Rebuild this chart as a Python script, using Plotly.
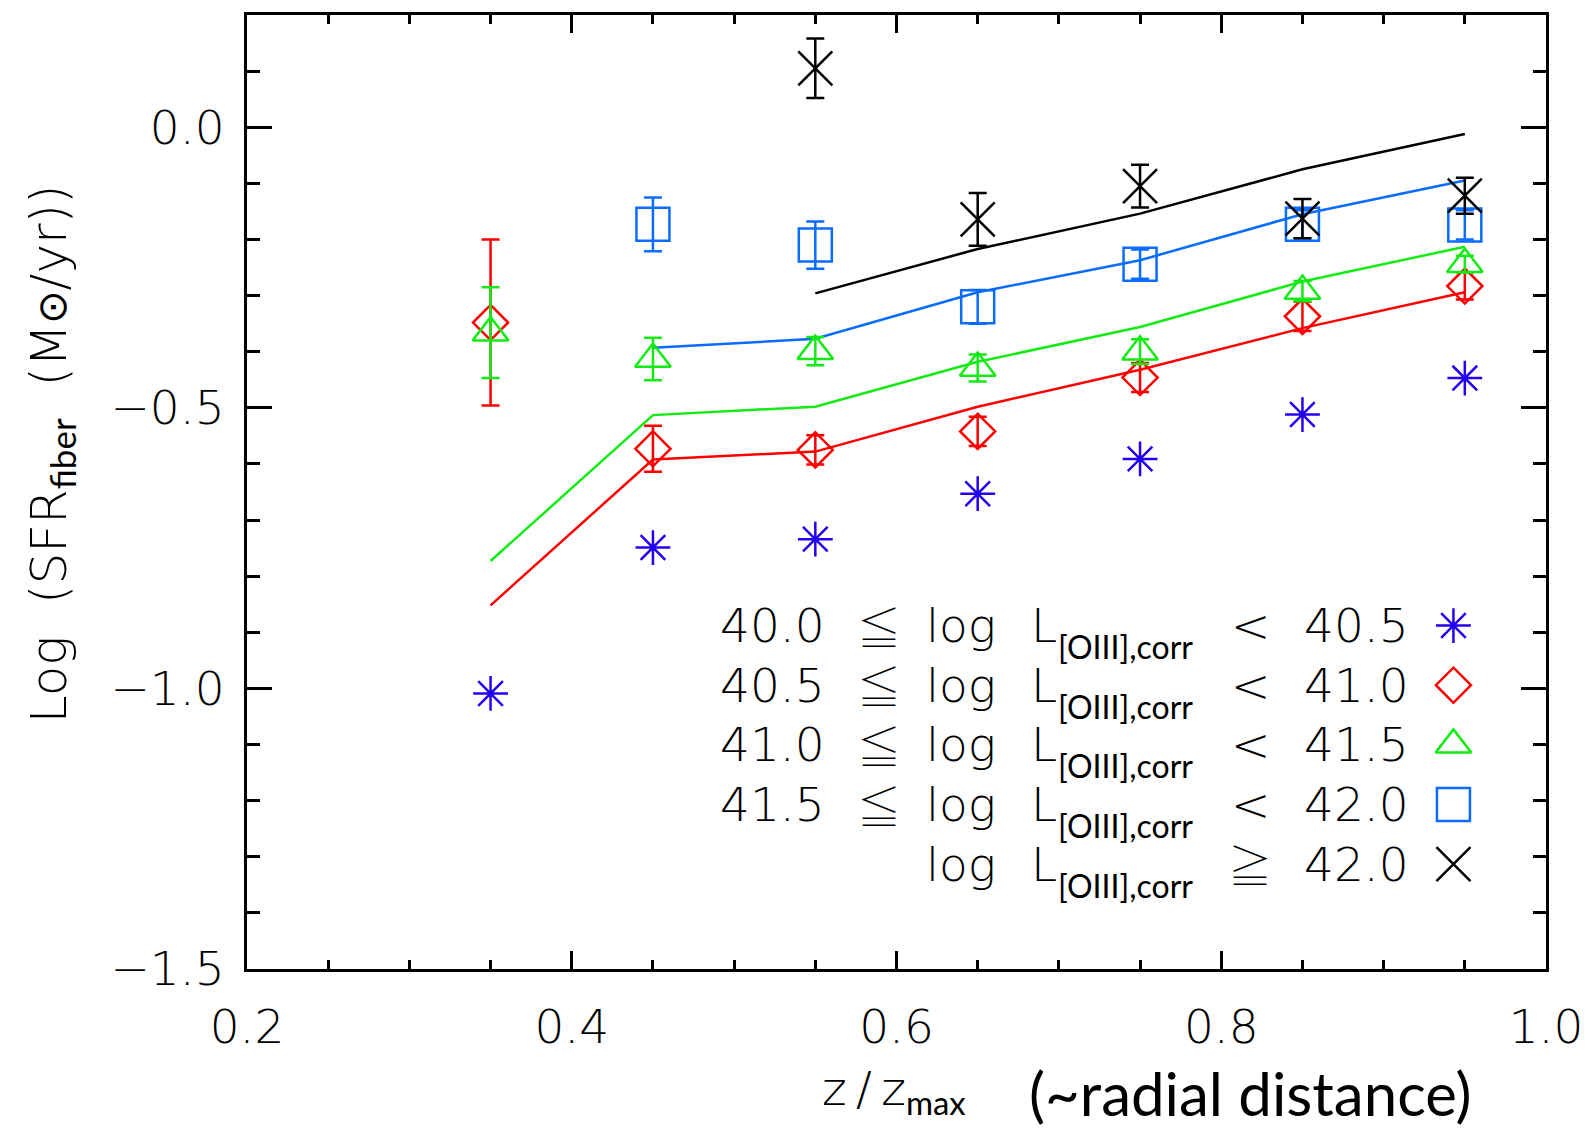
import plotly.graph_objects as go

# z/z_max bin centres
x_bins = [0.35, 0.45, 0.55, 0.65, 0.75, 0.85, 0.95]

# 40.0 <= log L < 40.5  (asterisks)
sfr_400 = [-1.009, -0.749, -0.734, -0.653, -0.591, -0.512, -0.447]

# 40.5 <= log L < 41.0  (diamonds + model line)
sfr_405 = [-0.348, -0.573, -0.575, -0.542, -0.446, -0.337, -0.283]
err_405 = [0.148, 0.041, 0.026, 0.026, 0.026, 0.026, 0.024]
model_405 = [-0.852, -0.592, -0.578, -0.498, -0.432, -0.358, -0.294]

# 41.0 <= log L < 41.5  (triangles + model line)
sfr_410 = [-0.366, -0.413, -0.399, -0.429, -0.400, -0.292, -0.244]
err_410 = [0.081, 0.038, 0.025, 0.024, 0.022, 0.018, 0.015]
model_410 = [-0.773, -0.513, -0.498, -0.418, -0.356, -0.275, -0.213]

# 41.5 <= log L < 42.0  (squares + model line)
x_415 = [0.45, 0.55, 0.65, 0.75, 0.85, 0.95]
sfr_415 = [-0.173, -0.210, -0.320, -0.244, -0.173, -0.174]
err_415 = [0.048, 0.042, 0.030, 0.026, 0.025, 0.026]
model_415 = [-0.393, -0.377, -0.294, -0.237, -0.155, -0.095]

# log L >= 42.0  (crosses + model line)
x_420 = [0.55, 0.65, 0.75, 0.85, 0.95]
sfr_420 = [0.105, -0.164, -0.105, -0.163, -0.122]
err_420 = [0.053, 0.047, 0.038, 0.035, 0.032]
model_420 = [-0.296, -0.217, -0.154, -0.075, -0.012]

# legend rows: lower bound, upper bound
row_lo = ["40.0", "40.5", "41.0", "41.5", ""]
row_hi = ["40.5", "41.0", "41.5", "42.0", "42.0"]

x_ticks = [0.2, 0.4, 0.6, 0.8, 1.0]
y_ticks = [-1.5, -1.0, -0.5, 0.0]

BLUE_STAR = "#2400f0"
RED = "#ff0000"
GREEN = "#14eb14"
BLUE_SQ = "#0a6cff"
BLACK = "#000000"

MAIN_FONT = "DejaVu Sans"
SUB_FONT = "Lato"
W = 200  # light strokes for the main lettering
SUB_SPAN = "<span style='font-family:Lato;font-weight:400'>{}</span>"

SYM_STAR = ("asterisk-open", 29)
SYM_DIAM = ("diamond-open", 27)
SYM_TRI = ("triangle-up-open", 31)
SYM_SQ = ("square-open", 33)
SYM_X = ("x-thin-open", 34)

fig = go.Figure()

# model curves
for xs, ys, col in [(x_bins, model_405, RED), (x_bins, model_410, GREEN),
                    (x_415, model_415, BLUE_SQ), (x_420, model_420, BLACK)]:
    fig.add_trace(go.Scatter(x=xs, y=ys, mode="lines",
                             line=dict(color=col, width=2.5), hoverinfo="skip"))


def points(xs, ys, errs, col, sym):
    kw = {}
    if errs is not None:
        kw["error_y"] = dict(type="data", array=errs, visible=True,
                             color=col, thickness=2.5, width=9)
    fig.add_trace(go.Scatter(
        x=xs, y=ys, mode="markers",
        marker=dict(symbol=sym[0], size=sym[1], color=col,
                    line=dict(color=col, width=2.5)),
        **kw))


points(x_bins, sfr_400, None, BLUE_STAR, SYM_STAR)
points(x_bins, sfr_405, err_405, RED, SYM_DIAM)
points(x_bins, sfr_410, err_410, GREEN, SYM_TRI)
points(x_415, sfr_415, err_415, BLUE_SQ, SYM_SQ)
points(x_420, sfr_420, err_420, BLACK, SYM_X)

# in-plot key
key_y0, key_dy = -0.888, 0.1063
key_x = 0.943
key_sym = [(SYM_STAR, BLUE_STAR), (SYM_DIAM, RED), (SYM_TRI, GREEN),
           (SYM_SQ, BLUE_SQ), (SYM_X, BLACK)]
big = dict(family=MAIN_FONT, size=47, color="black", weight=W)
rel = dict(family="Noto Sans CJK JP", size=44, color="black", weight=100)
ann = []
for i, (sym, col) in enumerate(key_sym):
    yy = key_y0 - i * key_dy
    fig.add_trace(go.Scatter(x=[key_x], y=[yy], mode="markers",
                             marker=dict(symbol=sym[0], size=sym[1], color=col,
                                         line=dict(color=col, width=2.5))))
    if row_lo[i]:
        ann.append(dict(x=0.557, y=yy, text=row_lo[i], xanchor="right", font=big))
        ann.append(dict(x=0.589, y=yy, text="≦", xanchor="center", font=rel))
        ann.append(dict(x=0.818, y=yy, text="<", xanchor="center", font=big))
    else:
        ann.append(dict(x=0.818, y=yy, text="≧", xanchor="center", font=rel))
    ann.append(dict(x=0.6396, y=yy, text="log", xanchor="center", font=big))
    ann.append(dict(x=0.6817, y=yy, text="L", xanchor="left", font=big))
    ann.append(dict(x=0.698, y=yy, text="[OIII],corr", xanchor="left", yshift=-21,
                    font=dict(family=SUB_FONT, size=32, color="black", weight=400)))
    ann.append(dict(x=0.883, y=yy, text=row_hi[i], xanchor="center", font=big))

for a in ann:
    a.update(xref="x", yref="y", yanchor="middle", showarrow=False)

# axis titles
sun = "<span style='font-weight:400;font-size:40px'>⊙</span>"
ann.append(dict(xref="paper", yref="paper", x=-0.1505, y=0.54, showarrow=False,
                textangle=-90, xanchor="center", yanchor="middle",
                text="Log  (SFR<sub>" + SUB_SPAN.format("fiber") + "</sub>  (M" + sun + "/yr))",
                font=dict(family=MAIN_FONT, size=50, color="black", weight=W)))
ann.append(dict(xref="paper", yref="paper", x=(821 - 247) / 1302, y=-0.128,
                showarrow=False, xanchor="left", yanchor="middle",
                text="z\u2009/\u2009z<sub>" + SUB_SPAN.format("max") + "</sub>",
                font=dict(family=MAIN_FONT, size=47, color="black", weight=W)))
ann.append(dict(xref="paper", yref="paper", x=(1029 - 247) / 1302, y=-0.13,
                showarrow=False, xanchor="left", yanchor="middle",
                text="(~radial distance)",
                font=dict(family=SUB_FONT, size=60, color="black")))

axis_common = dict(showline=True, linecolor="black", linewidth=3, mirror="allticks",
                   ticks="inside", tickcolor="black", tickwidth=2.5,
                   showgrid=False, zeroline=False,
                   tickfont=dict(family=MAIN_FONT, size=47, color="black", weight=W))

fig.update_layout(
    width=1595, height=1131,
    margin=dict(l=247, r=46, t=12, b=162),
    paper_bgcolor="white", plot_bgcolor="white",
    showlegend=False,
    annotations=ann,
    xaxis=dict(range=[0.2, 1.0], tickvals=x_ticks, tickformat=".1f",
               ticklen=18, ticklabelstandoff=15,
               minor=dict(dtick=0.05, ticks="inside", ticklen=9,
                          tickcolor="black", tickwidth=2.5),
               **axis_common),
    yaxis=dict(range=[-1.5, 0.2], tickvals=y_ticks, tickformat=".1f",
               ticklen=25, ticklabelstandoff=10,
               minor=dict(dtick=0.1, ticks="inside", ticklen=13,
                          tickcolor="black", tickwidth=2.5),
               **axis_common),
)

fig.write_html("out.html")
